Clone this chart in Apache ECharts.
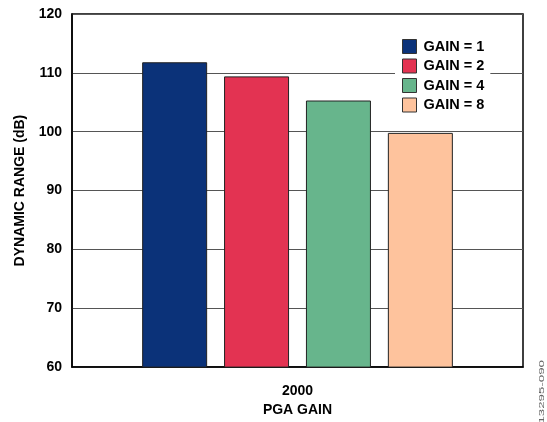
<!DOCTYPE html>
<html>
<head>
<meta charset="utf-8">
<script src="https://cdn.jsdelivr.net/npm/echarts@6/dist/echarts.min.js"></script>
<style>
html,body{margin:0;padding:0;background:#fff;}
#c{width:547px;height:422px;}
</style>
</head>
<body>
<div id="c"></div>
<script>
var categories = ['2000'];
var seriesNames = ['GAIN = 1', 'GAIN = 2', 'GAIN = 4', 'GAIN = 8'];
var seriesValues = [[111.8], [109.4], [105.3], [99.8]];
var seriesColors = ['#0b3279', '#e33352', '#67b58c', '#fec39d'];
var yTicks = [60, 70, 80, 90, 100, 110, 120];

var FONT = '"Liberation Sans", Arial, sans-serif';
var chart = echarts.init(document.getElementById('c'), null, {renderer: 'canvas'});

var series = seriesNames.map(function (name, i) {
  return {
    name: name,
    type: 'bar',
    data: seriesValues[i],
    barWidth: 65,
    barGap: '26%',
    itemStyle: {color: seriesColors[i], borderColor: '#222', borderWidth: 1},
    emphasis: {disabled: true}
  };
});

chart.setOption({
  animation: false,
  backgroundColor: '#fff',
  textStyle: {fontFamily: FONT},
  grid: {left: 72, right: 24, top: 14, bottom: 52, show: true, borderColor: '#000', borderWidth: 1.5, containLabel: false},
  legend: {
    orient: 'vertical',
    left: 395,
    top: 35,
    padding: [4, 6, 5, 7],
    backgroundColor: '#fff',
    itemWidth: 14,
    itemHeight: 14,
    itemGap: 4.5,
    selectedMode: false,
    textStyle: {fontFamily: FONT, fontWeight: 'bold', fontSize: 14.5, lineHeight: 14, color: '#000', padding: [0, 0, 0, 2]},
    itemStyle: {borderColor: '#333', borderWidth: 1},
    data: seriesNames.map(function (n) { return {name: n, icon: 'rect'}; })
  },
  xAxis: {
    type: 'category',
    data: categories,
    name: 'PGA GAIN',
    nameLocation: 'middle',
    nameGap: 32,
    nameTextStyle: {fontFamily: FONT, fontWeight: 'bold', fontSize: 14, color: '#000'},
    axisLine: {show: true, lineStyle: {color: '#000', width: 1.5}},
    axisTick: {show: false},
    axisLabel: {fontFamily: FONT, fontWeight: 'bold', fontSize: 14, color: '#000', margin: 17},
    splitLine: {show: false}
  },
  yAxis: {
    type: 'value',
    min: yTicks[0],
    max: yTicks[yTicks.length - 1],
    interval: 10,
    name: 'DYNAMIC RANGE (dB)',
    nameLocation: 'middle',
    nameGap: 45,
    nameTextStyle: {fontFamily: FONT, fontWeight: 'bold', fontSize: 14, color: '#000'},
    axisLine: {show: true, lineStyle: {color: '#000', width: 1.5}},
    axisTick: {show: false},
    axisLabel: {fontFamily: FONT, fontWeight: 'bold', fontSize: 14, color: '#000', margin: 10},
    splitLine: {show: true, lineStyle: {color: '#555', width: 1}}
  },
  graphic: [{
    type: 'text',
    left: 539,
    top: 360,
    rotation: Math.PI / 2,
    scaleX: 1.9,
    style: {text: '13295-090', fontFamily: FONT, fontSize: 7, fill: '#666'}
  }],
  series: series
});
</script>
</body>
</html>
